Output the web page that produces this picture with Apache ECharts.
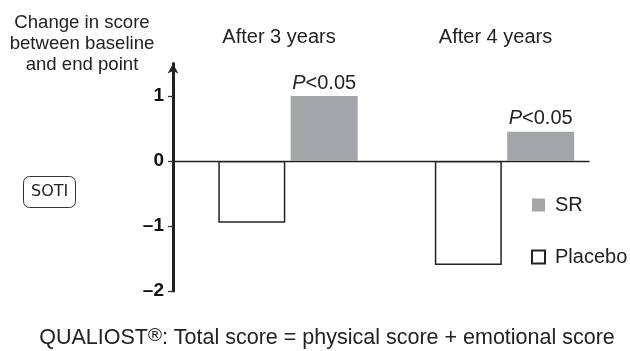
<!DOCTYPE html>
<html><head><meta charset="utf-8">
<script src="https://cdn.jsdelivr.net/npm/echarts@6/dist/echarts.min.js"></script>
<style>html,body{margin:0;padding:0;background:#fff}#c{width:630px;height:351px}</style>
</head><body><div id="c"></div>
<script>
const categories = ['After 3 years', 'After 4 years'];
const placeboValues = [-0.95, -1.6];
const srValues = [1.0, 0.45];
const pLabels = ['<0.05', '<0.05'];
const yTicks = [1, 0, -1, -2];
const yTickLabels = ['1', '0', '\u20131', '\u20132'];
const catPos = categories.map((c, i) => i + 1);

const FONT = '"Liberation Sans", Arial, Helvetica, sans-serif';
const chart = echarts.init(document.getElementById('c'), null, {renderer: 'canvas'});
const xMin = 0.4688, xMax = 2.3903;
const option = {
  animation: false,
  textStyle: {fontFamily: FONT},
  title: [
    {text: 'Change in score\nbetween baseline\nand end point', left: 82, top: 12, textAlign: 'center', padding: 0,
     textStyle: {fontSize: 18.6, lineHeight: 21, fontWeight: 'normal', color: '#222', fontFamily: FONT}},
    {text: 'SOTI', left: 23, top: 176, padding: [8, 8], borderColor: '#333', borderWidth: 1, borderRadius: 6,
     textStyle: {fontSize: 16, fontWeight: 'normal', color: '#222', fontFamily: '"DejaVu Sans", sans-serif'}},
    {text: '{a|QUALIOST}{r|\u00AE}{a|: Total score = physical score + emotional score}', left: 327, top: 326, textAlign: 'center', padding: 0,
     textStyle: {fontWeight: 'normal', rich: {
       a: {fontSize: 21.5, fontWeight: 'normal', color: '#222', fontFamily: FONT, lineHeight: 24},
       r: {fontSize: 19, fontWeight: 'normal', color: '#222', fontFamily: FONT, verticalAlign: 'top', lineHeight: 14}
     }}}
  ],
  legend: {
    orient: 'vertical', left: 526, top: 190, itemWidth: 13, itemHeight: 13, itemGap: 32,
    data: ['SR', 'Placebo'], icon: 'rect',
    textStyle: {fontSize: 20, color: '#222', fontFamily: FONT, padding: [0, 0, 0, 5]}
  },
  grid: {left: 173, right: 41, top: 63.5, bottom: 60},
  xAxis: [
    {type: 'value', min: xMin, max: xMax,
     axisLine: {onZero: true, lineStyle: {color: '#222', width: 1.3}},
     axisTick: {show: false}, axisLabel: {show: false}, splitLine: {show: false}},
    {type: 'value', position: 'top', min: xMin, max: xMax,
     axisLine: {show: false, onZero: false}, axisTick: {show: false}, splitLine: {show: false},
     axisLabel: {customValues: catPos, formatter: v => categories[Math.round(v) - 1] || '',
       fontSize: 20, color: '#222', margin: 16, padding: [0, 18, 0, 0], fontFamily: FONT}}
  ],
  yAxis: {
    type: 'value', min: -2, max: 1.5, interval: 1,
    axisLine: {show: true, onZero: false, symbol: ['none', 'arrow'], symbolSize: [8, 10],
      lineStyle: {color: '#222', width: 3}},
    axisTick: {show: true, length: 5, customValues: yTicks, lineStyle: {color: '#333', width: 1.3}},
    axisLabel: {customValues: yTicks, formatter: v => yTickLabels[yTicks.indexOf(v)],
      fontSize: 19, fontWeight: 'bold', color: '#111', margin: 9, fontFamily: FONT},
    splitLine: {show: false}
  },
  series: [
    {name: 'Placebo', type: 'bar', data: catPos.map((x, i) => [x, placeboValues[i]]),
     barWidth: 67, barGap: '8%',
     itemStyle: {color: '#fff', borderColor: '#222', borderWidth: 1.5}},
    {name: 'SR', type: 'bar', data: catPos.map((x, i) => [x, srValues[i]]),
     barWidth: 67, barGap: '8%',
     itemStyle: {color: '#a4a5a8'},
     label: {show: true, position: 'top', distance: 3,
       formatter: p => '{i|P}{n|' + pLabels[p.dataIndex] + '}',
       rich: {i: {fontStyle: 'italic', fontSize: 20, color: '#222', fontFamily: FONT},
              n: {fontSize: 20, color: '#222', fontFamily: FONT}}}}
  ]
};
chart.setOption(option);
</script></body></html>
